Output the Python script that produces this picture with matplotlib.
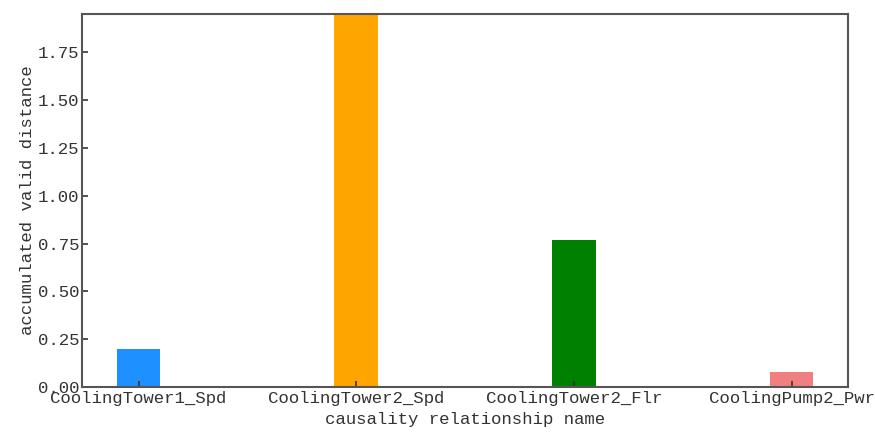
import matplotlib
matplotlib.use("Agg")
import matplotlib.pyplot as plt
import numpy as np

names = ["CoolingTower1_Spd", "CoolingTower2_Spd", "CoolingTower2_Flr", "CoolingPump2_Pwr"]
values = [0.20, 1.95, 0.77, 0.08]
colors = ["dodgerblue", "orange", "green", "lightcoral"]

plt.rcParams['font.family'] = ['Liberation Mono', 'DejaVu Sans Mono']
plt.rcParams['font.size'] = 12.5

fig = plt.figure(figsize=(8.75, 4.34), dpi=100)
ax = fig.add_axes([0.0937, 0.108, 0.9693 - 0.0937, 0.968 - 0.108])

x = np.arange(len(names))
ax.bar(x, values, width=0.2, color=colors)
ax.set_xticks(x)
ax.set_xticklabels(names, color="#333333")
ax.set_ylim(0, 1.95)
ax.set_yticks(np.arange(0, 2.0, 0.25))
ax.set_yticklabels(["%.2f" % v for v in np.arange(0, 2.0, 0.25)], color="#333333")
ax.tick_params(direction="in", length=4, width=1.2, color="#333333", pad=2)
ax.tick_params(axis="x", pad=3)
for s in ax.spines.values():
    s.set_color("#555555")
    s.set_linewidth(1.5)

ax.set_xlabel("causality relationship name", color="#333333", labelpad=4)
ax.set_ylabel("accumulated valid distance", color="#333333", labelpad=2)

fig.savefig("out.png", dpi=100)
